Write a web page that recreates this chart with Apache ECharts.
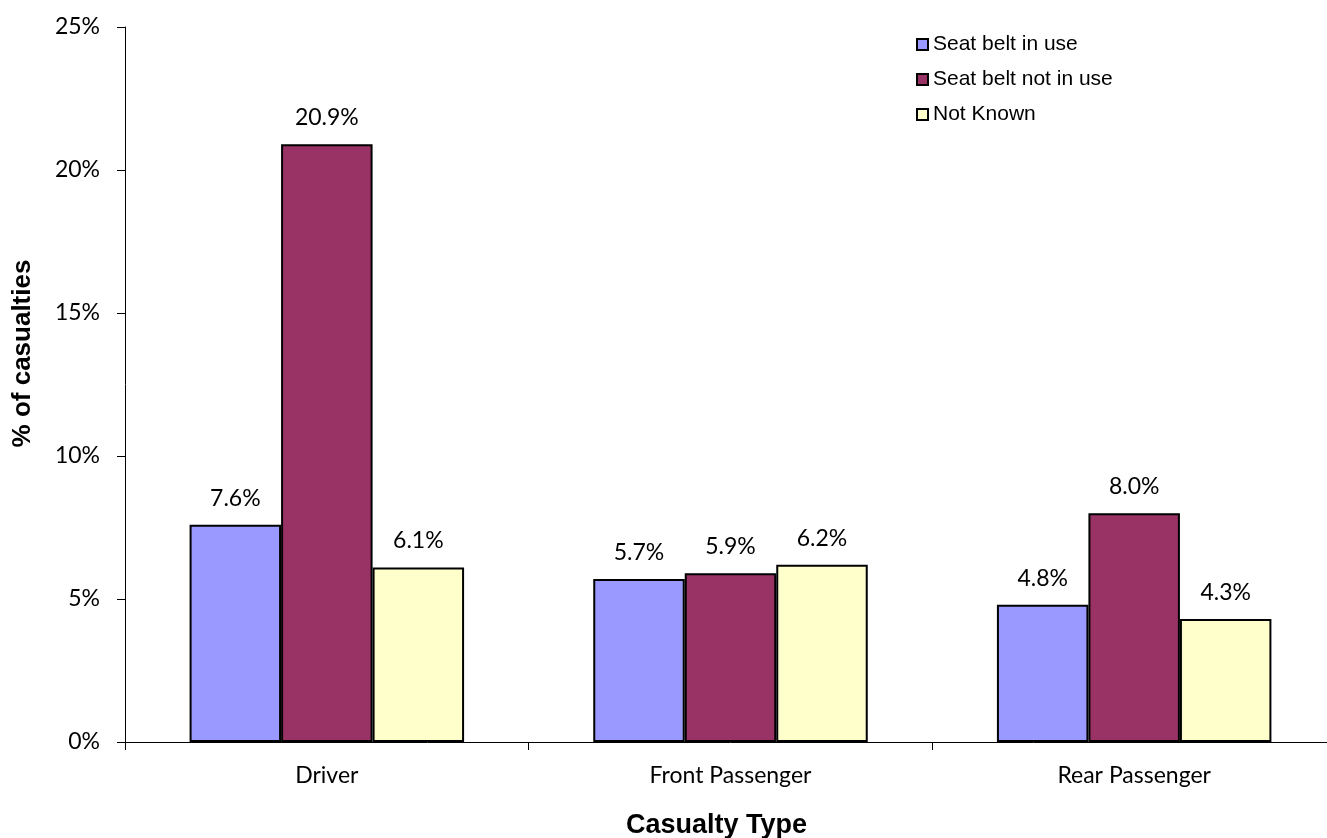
<!DOCTYPE html>
<html>
<head>
<meta charset="utf-8">
<script src="https://cdn.jsdelivr.net/npm/echarts@6/dist/echarts.min.js"></script>
<style>
  html, body { margin: 0; padding: 0; background: #fff; overflow: hidden; }
  #chart { width: 1346px; height: 838px; }
</style>
</head>
<body>
<div id="chart"></div>
<script>
// casualty types
const categories = ['Driver', 'Front Passenger', 'Rear Passenger'];
// % of casualties per seat belt status
const beltInUse = [7.6, 5.7, 4.8];
const beltNotInUse = [20.9, 5.9, 8.0];
const notKnown = [6.1, 6.2, 4.3];
const yTicks = [0, 5, 10, 15, 20, 25];

const tickFont = 'Lato, "Open Sans", sans-serif';
const titleFont = '"Liberation Sans", Arial, sans-serif';

function barSeries(name, data, color) {
  return {
    name: name,
    type: 'bar',
    data: data,
    barGap: '0%',
    barCategoryGap: '32%',
    itemStyle: { color: color, borderColor: '#000', borderWidth: 2 },
    label: {
      show: true,
      position: 'top',
      distance: 15,
      color: '#000',
      fontFamily: tickFont,
      fontSize: 23,
      formatter: p => p.value.toFixed(1) + '%'
    }
  };
}

const chart = echarts.init(document.getElementById('chart'));
chart.setOption({
  animation: false,
  backgroundColor: '#fff',
  grid: { left: 125, top: 27, right: 10, bottom: 96, outerBoundsMode: 'none', containLabel: false },
  legend: {
    orient: 'vertical',
    left: 911,
    top: 29,
    itemWidth: 11,
    itemHeight: 11,
    itemGap: 14,
    icon: 'rect',
    textStyle: { fontFamily: titleFont, fontSize: 21, color: '#000' },
    itemStyle: { borderColor: '#000', borderWidth: 2 }
  },
  xAxis: {
    type: 'category',
    data: categories,
    name: 'Casualty Type',
    nameLocation: 'middle',
    nameGap: 70,
    nameTextStyle: { fontFamily: titleFont, fontWeight: 'bold', fontSize: 27, color: '#000', padding: [0, 28, 0, 0] },
    axisLine: { lineStyle: { color: '#000', width: 1 } },
    axisTick: { show: true, length: 8, lineStyle: { color: '#000' } },
    axisLabel: { color: '#000', fontFamily: tickFont, fontSize: 23, margin: 22 }
  },
  yAxis: {
    type: 'value',
    min: yTicks[0],
    max: yTicks[yTicks.length - 1],
    interval: 5,
    name: '% of casualties',
    nameLocation: 'middle',
    nameGap: 89,
    nameRotate: 90,
    nameTextStyle: { fontFamily: titleFont, fontWeight: 'bold', fontSize: 26, color: '#000', padding: [0, 0, 0, 62] },
    splitLine: { show: false },
    axisLine: { show: true, lineStyle: { color: '#000', width: 1 } },
    axisTick: { show: true, length: 8, lineStyle: { color: '#000' } },
    axisLabel: { color: '#000', fontFamily: tickFont, fontSize: 23, margin: 25, formatter: v => v + '%' }
  },
  series: [
    barSeries('Seat belt in use', beltInUse, '#9999FF'),
    barSeries('Seat belt not in use', beltNotInUse, '#993366'),
    barSeries('Not Known', notKnown, '#FFFFCC')
  ]
});
</script>
</body>
</html>
